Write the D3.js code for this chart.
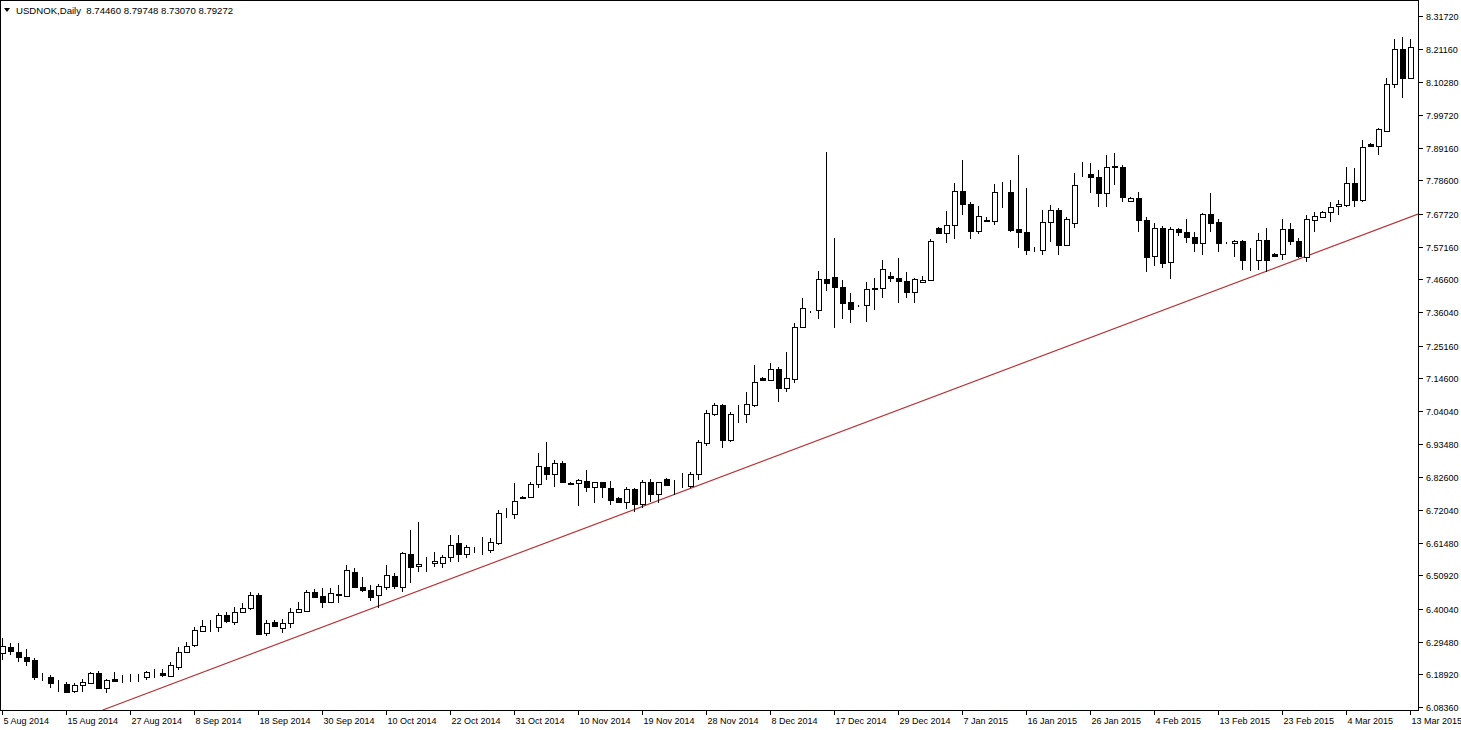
<!DOCTYPE html>
<html><head><meta charset="utf-8">
<script src="https://cdn.jsdelivr.net/npm/d3@7/dist/d3.min.js"></script>
<style>
html,body{margin:0;padding:0;background:#fff;}
svg{display:block;font-family:"Liberation Sans",Arial,sans-serif;}
</style></head><body>
<svg id="c" width="1461" height="730"></svg>
<script>
const TITLE = "USDNOK,Daily  8.74460 8.79748 8.73070 8.79272";
const OPEN = [6.258,6.278,6.261,6.245,6.236,6.181,6.181,6.155,6.158,6.135,6.155,6.161,6.194,6.145,6.174,6.174,6.177,6.178,6.181,6.194,6.194,6.184,6.213,6.261,6.284,6.329,6.346,6.342,6.381,6.358,6.391,6.404,6.446,6.323,6.358,6.339,6.355,6.391,6.394,6.455,6.442,6.423,6.446,6.442,6.520,6.471,6.462,6.446,6.471,6.507,6.471,6.578,6.539,6.546,6.549,6.549,6.568,6.614,6.578,6.591,6.592,6.591,6.614,6.707,6.707,6.762,6.762,6.804,6.859,6.836,6.872,6.808,6.807,6.814,6.794,6.811,6.791,6.759,6.746,6.788,6.740,6.811,6.772,6.820,6.801,6.803,6.798,6.836,6.937,7.031,7.060,6.946,7.031,7.031,7.060,7.147,7.140,7.176,7.114,7.144,7.312,7.361,7.367,7.467,7.473,7.441,7.393,7.380,7.383,7.434,7.438,7.477,7.470,7.460,7.425,7.457,7.464,7.632,7.616,7.641,7.751,7.709,7.622,7.658,7.654,7.748,7.748,7.629,7.619,7.564,7.561,7.651,7.690,7.577,7.648,7.806,7.806,7.797,7.745,7.829,7.829,7.719,7.729,7.658,7.541,7.632,7.522,7.629,7.619,7.603,7.583,7.677,7.651,7.583,7.583,7.590,7.528,7.528,7.593,7.548,7.548,7.629,7.590,7.538,7.658,7.667,7.684,7.703,7.706,7.777,7.722,7.904,7.897,7.946,8.097,8.211,8.117];
const HIGH = [6.307,6.291,6.291,6.271,6.242,6.194,6.187,6.171,6.165,6.161,6.174,6.197,6.200,6.174,6.197,6.187,6.190,6.190,6.200,6.207,6.207,6.229,6.278,6.294,6.342,6.365,6.365,6.388,6.391,6.407,6.420,6.455,6.452,6.365,6.365,6.368,6.404,6.423,6.462,6.465,6.468,6.468,6.478,6.543,6.533,6.504,6.478,6.481,6.543,6.517,6.585,6.656,6.682,6.568,6.585,6.575,6.640,6.640,6.607,6.601,6.633,6.630,6.720,6.727,6.807,6.765,6.811,6.904,6.940,6.882,6.878,6.811,6.820,6.849,6.811,6.811,6.814,6.762,6.794,6.791,6.817,6.820,6.811,6.823,6.817,6.840,6.843,6.946,7.044,7.066,7.063,7.037,7.060,7.101,7.189,7.150,7.195,7.182,7.231,7.325,7.405,7.363,7.493,7.878,7.599,7.464,7.422,7.383,7.457,7.470,7.528,7.489,7.535,7.489,7.470,7.477,7.596,7.635,7.687,7.777,7.852,7.716,7.703,7.667,7.774,7.780,7.787,7.868,7.761,7.570,7.690,7.706,7.696,7.667,7.810,7.845,7.842,7.819,7.868,7.874,7.836,7.732,7.748,7.667,7.648,7.638,7.635,7.632,7.661,7.619,7.680,7.745,7.661,7.586,7.593,7.593,7.567,7.616,7.632,7.551,7.661,7.648,7.599,7.674,7.684,7.687,7.716,7.722,7.829,7.826,7.916,7.907,7.955,8.117,8.243,8.249,8.243];
const LOW = [6.236,6.252,6.229,6.216,6.171,6.168,6.145,6.132,6.129,6.129,6.132,6.158,6.142,6.129,6.168,6.161,6.165,6.165,6.171,6.177,6.181,6.181,6.203,6.258,6.278,6.326,6.326,6.326,6.355,6.349,6.388,6.397,6.316,6.313,6.342,6.323,6.339,6.388,6.391,6.436,6.404,6.420,6.420,6.439,6.468,6.455,6.426,6.404,6.462,6.465,6.455,6.484,6.520,6.520,6.536,6.533,6.552,6.552,6.565,6.581,6.575,6.581,6.607,6.694,6.691,6.756,6.759,6.791,6.817,6.794,6.807,6.804,6.733,6.778,6.743,6.759,6.736,6.743,6.724,6.714,6.727,6.746,6.743,6.798,6.768,6.791,6.791,6.817,6.927,7.024,6.921,6.940,7.001,7.001,7.053,7.137,7.137,7.069,7.101,7.131,7.308,7.357,7.338,7.428,7.308,7.338,7.325,7.376,7.328,7.367,7.405,7.457,7.389,7.405,7.389,7.454,7.460,7.612,7.583,7.596,7.674,7.596,7.612,7.651,7.641,7.696,7.619,7.567,7.544,7.554,7.544,7.586,7.544,7.574,7.632,7.797,7.745,7.700,7.700,7.770,7.716,7.716,7.619,7.489,7.509,7.502,7.467,7.606,7.583,7.554,7.544,7.619,7.554,7.580,7.538,7.496,7.493,7.496,7.489,7.538,7.528,7.577,7.535,7.522,7.619,7.664,7.651,7.674,7.700,7.700,7.716,7.894,7.868,7.943,8.084,8.052,8.117];
const CLOSE = [6.281,6.265,6.245,6.232,6.181,6.180,6.161,6.155,6.132,6.155,6.165,6.194,6.145,6.171,6.168,6.175,6.178,6.177,6.197,6.195,6.187,6.219,6.261,6.281,6.333,6.346,6.345,6.381,6.362,6.391,6.404,6.446,6.320,6.355,6.346,6.355,6.391,6.400,6.455,6.439,6.423,6.452,6.449,6.526,6.471,6.462,6.439,6.475,6.510,6.475,6.581,6.536,6.546,6.547,6.556,6.568,6.607,6.578,6.601,6.592,6.591,6.617,6.711,6.708,6.749,6.759,6.804,6.862,6.836,6.872,6.811,6.806,6.817,6.794,6.811,6.794,6.753,6.746,6.788,6.740,6.811,6.772,6.811,6.801,6.802,6.804,6.836,6.940,7.034,7.060,6.946,7.031,7.032,7.063,7.134,7.140,7.176,7.114,7.147,7.312,7.373,7.359,7.467,7.454,7.441,7.389,7.370,7.379,7.434,7.438,7.499,7.470,7.460,7.425,7.467,7.464,7.590,7.616,7.641,7.751,7.709,7.622,7.671,7.654,7.748,7.749,7.625,7.619,7.561,7.563,7.651,7.690,7.577,7.661,7.770,7.807,7.797,7.745,7.829,7.832,7.732,7.729,7.658,7.538,7.632,7.519,7.629,7.619,7.603,7.583,7.677,7.648,7.583,7.584,7.590,7.528,7.529,7.593,7.528,7.541,7.629,7.590,7.541,7.661,7.671,7.684,7.700,7.709,7.777,7.722,7.894,7.897,7.952,8.097,8.211,8.117,8.217];
const PRICE_TICKS = [8.31720,8.21160,8.10280,7.99720,7.89160,7.78600,7.67720,7.57160,7.46600,7.36040,7.25160,7.14600,7.04040,6.93480,6.82600,6.72040,6.61480,6.50920,6.40040,6.29480,6.18920,6.08360];
const DATE_LABELS = ["5 Aug 2014","15 Aug 2014","27 Aug 2014","8 Sep 2014","18 Sep 2014","30 Sep 2014","10 Oct 2014","22 Oct 2014","31 Oct 2014","10 Nov 2014","19 Nov 2014","28 Nov 2014","8 Dec 2014","17 Dec 2014","29 Dec 2014","7 Jan 2015","16 Jan 2015","26 Jan 2015","4 Feb 2015","13 Feb 2015","23 Feb 2015","4 Mar 2015","13 Mar 2015"];
const DATE_LABEL_STEP = 8; // bars between date labels
const TREND = [{i:12.6, v:6.074},{i:177, v:7.677}];

const W = 1461, H = 730;
const plotRight = 1418, plotBottom = 710;
const svg = d3.select("#c");
const n = OPEN.length;
const x = d3.scaleLinear().domain([0, n-1]).range([2, 1410]);
const y = d3.scaleLinear().domain([6.08360, 8.31720]).range([707, 16]);

svg.append("defs").append("clipPath").attr("id", "plotclip")
  .append("rect").attr("x",0).attr("y",0).attr("width",plotRight).attr("height",plotBottom);

// frame
svg.append("rect").attr("x",0.5).attr("y",0.5).attr("width",plotRight).attr("height",plotBottom)
  .attr("fill","none").attr("stroke","#000").attr("shape-rendering","crispEdges");

const g = svg.append("g").attr("clip-path","url(#plotclip)");

// trend line
g.append("line")
  .attr("x1", x(TREND[0].i)).attr("y1", y(TREND[0].v))
  .attr("x2", x(TREND[1].i)).attr("y2", y(TREND[1].v))
  .attr("stroke","#b83236").attr("stroke-width",1.2);

const data = d3.range(n).map(i => ({i, o:OPEN[i], h:HIGH[i], l:LOW[i], c:CLOSE[i]}));
const cg = g.append("g").attr("shape-rendering","crispEdges");
const cand = cg.selectAll("g").data(data).join("g");
cand.append("line")
  .attr("x1", d => Math.round(x(d.i))+0.5).attr("x2", d => Math.round(x(d.i))+0.5)
  .attr("y1", d => y(d.h)).attr("y2", d => y(d.l))
  .attr("stroke","#000").attr("stroke-width",1);
cand.append("rect")
  .attr("x", d => Math.round(x(d.i))-2+0.5)
  .attr("width", 5)
  .attr("y", d => Math.round(y(Math.max(d.o,d.c)))+0.5)
  .attr("height", d => Math.max(0, Math.round(y(Math.min(d.o,d.c))) - Math.round(y(Math.max(d.o,d.c)))))
  .attr("fill", d => d.c >= d.o ? "#fff" : "#000")
  .attr("stroke","#000").attr("stroke-width",1);

// right price axis
const ya = svg.append("g");
PRICE_TICKS.forEach(v => {
  const yy = Math.round(y(v))+0.5;
  ya.append("line").attr("x1",plotRight+0.5).attr("x2",plotRight+4.5).attr("y1",yy).attr("y2",yy)
    .attr("stroke","#000").attr("shape-rendering","crispEdges");
  ya.append("text").attr("x",plotRight+8).attr("y",yy).attr("dy","0.35em")
    .attr("font-size","9px").attr("fill","#000").text(v.toFixed(5));
});

// bottom date axis
const xa = svg.append("g");
DATE_LABELS.forEach((t,k) => {
  const xx = Math.round(x(k*DATE_LABEL_STEP))+0.5;
  xa.append("line").attr("x1",xx).attr("x2",xx).attr("y1",plotBottom+0.5).attr("y2",plotBottom+4.5)
    .attr("stroke","#000").attr("shape-rendering","crispEdges");
  xa.append("text").attr("x",xx+1).attr("y",plotBottom+14)
    .attr("font-size","9px").attr("fill","#000").text(t);
});

// title
svg.append("path").attr("d","M4,8 L10,8 L7,12 Z").attr("fill","#000");
svg.append("text").attr("x",16).attr("y",14).attr("font-size","9.6px").attr("fill","#000")
  .attr("xml:space","preserve").text(TITLE);
</script>
</body></html>
